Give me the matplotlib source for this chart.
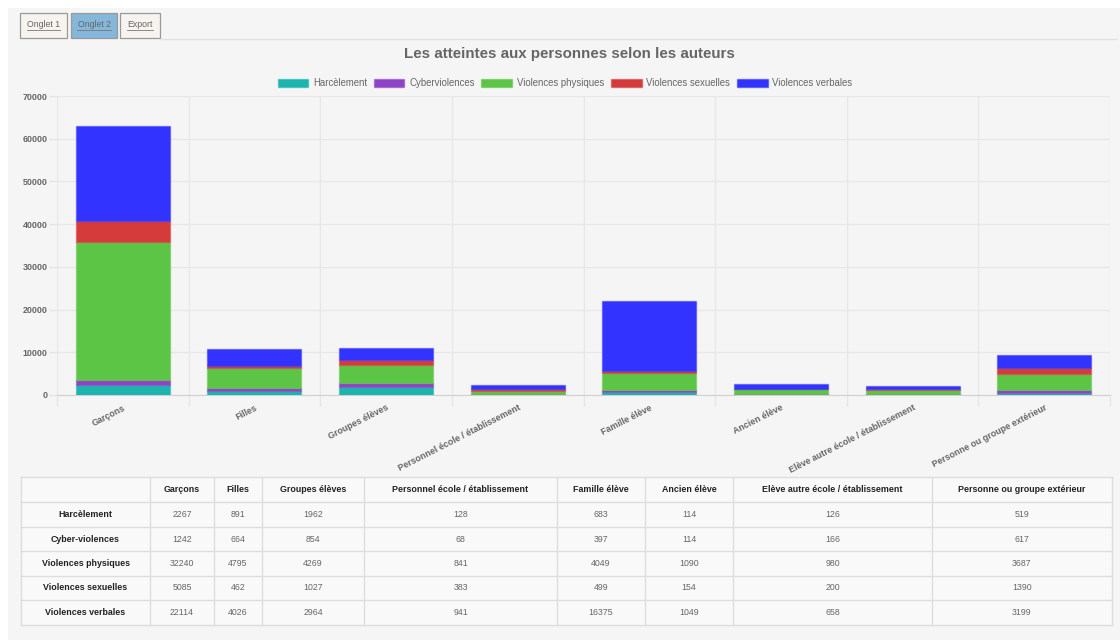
import numpy as np
import matplotlib
matplotlib.use("Agg")
import matplotlib.pyplot as plt
from matplotlib.patches import Rectangle, Patch

plt.rcParams['font.family'] = ['Liberation Sans', 'DejaVu Sans']

# auteurs (colonnes) et types d'atteinte (séries empilées)
auteurs = ["Garçons", "Filles", "Groupes élèves", "Personnel école / établissement",
           "Famille élève", "Ancien élève", "Elève autre école / établissement",
           "Personne ou groupe extérieur"]
series_legende = ["Harcèlement", "Cyberviolences", "Violences physiques",
                  "Violences sexuelles", "Violences verbales"]
series_tableau = ["Harcèlement", "Cyber-violences", "Violences physiques",
                  "Violences sexuelles", "Violences verbales"]

harcelement = [2267, 891, 1962, 128, 683, 114, 126, 519]
cyber = [1242, 664, 854, 68, 397, 114, 166, 617]
physiques = [32240, 4795, 4269, 841, 4049, 1090, 980, 3687]
sexuelles = [5085, 462, 1027, 383, 499, 154, 200, 1390]
verbales = [22114, 4026, 2964, 941, 16375, 1049, 658, 3199]

couleurs = ["#1bb5ae", "#8e44c4", "#5cc545", "#d63b3b", "#3333ff"]
yticks = [0, 10000, 20000, 30000, 40000, 50000, 60000, 70000]

W, H = 1120, 644
fig = plt.figure(figsize=(W / 100, H / 100), dpi=100, facecolor="white")

# calque "page" en coordonnées pixel
page = fig.add_axes([0, 0, 1, 1], zorder=0)
page.set_xlim(0, W)
page.set_ylim(H, 0)
page.axis("off")
page.add_patch(Rectangle((8, 8), W - 8, 632, facecolor="#f5f5f5", edgecolor="none"))

# onglets
onglets = [("Onglet 1", 20, 67, "#f7f4ef"), ("Onglet 2", 71, 117, "#84b7d9"),
           ("Export", 120, 160, "#f7f4ef")]
for nom, x0, x1, fond in onglets:
    page.add_patch(Rectangle((x0, 13), x1 - x0, 25, facecolor=fond,
                             edgecolor="#999999", lw=0.9))
    page.text((x0 + x1) / 2, 24.5, nom, ha="center", va="center", fontsize=6.3,
              color="#666666")
    tw = len(nom) * 4.2
    page.plot([(x0 + x1) / 2 - tw / 2, (x0 + x1) / 2 + tw / 2], [29.5, 29.5],
              color="#777777", lw=0.6)
page.plot([160, 1117], [38.5, 38.5], color="#e2e2e2", lw=1)

# titre + légende
fig.text(569 / W, 1 - 54 / H, "Les atteintes aux personnes selon les auteurs",
         ha="center", va="center", fontsize=10.9, fontweight="bold", color="#666666")
handles = [Patch(facecolor=c, edgecolor=matplotlib.colors.to_rgba(c, 0.5), lw=1)
           for c in couleurs]
fig.legend(handles, series_legende, loc="center", bbox_to_anchor=(565 / W, 1 - 83 / H),
           ncol=5, frameon=False, fontsize=6.9, labelcolor="#666666",
           handlelength=3.2, handleheight=0.95, handletextpad=0.5, columnspacing=0.7)

# histogramme empilé
ax = fig.add_axes([57 / W, 1 - 395 / H, (1110 - 57) / W, (395 - 96) / H], zorder=2)
ax.set_facecolor("none")
x = np.arange(len(auteurs))
bas = np.zeros(len(auteurs))
for vals, c in zip([harcelement, cyber, physiques, sexuelles, verbales], couleurs):
    ax.bar(x, vals, bottom=bas, width=0.715, color=c,
           edgecolor=matplotlib.colors.to_rgba(c, 0.45), linewidth=1, zorder=3)
    bas += np.array(vals)

ax.set_xlim(-0.5, len(auteurs) - 0.5)
ax.set_ylim(0, 70000)
ax.set_yticks(yticks)
ax.set_yticklabels([str(v) for v in yticks])
ax.set_xticks(x)
ax.set_xticklabels(auteurs, rotation=27, ha="right", rotation_mode="anchor")
ax.set_xticks(np.arange(len(auteurs) + 1) - 0.5, minor=True)
ax.tick_params(axis="x", which="major", length=0, pad=6, labelsize=6.4,
               labelcolor="#666666")
ax.tick_params(axis="x", which="minor", length=8, color="#e6e6e6", width=1)
ax.tick_params(axis="y", length=6, color="#e6e6e6", width=1, pad=1, labelsize=6.4,
               labelcolor="#666666")
for lab in ax.get_xticklabels() + ax.get_yticklabels():
    lab.set_fontweight("bold")
ax.grid(True, axis="y", color="#e8e8e8", lw=1, zorder=0)
ax.grid(True, axis="x", which="minor", color="#e8e8e8", lw=1, zorder=0)
for s in ["top", "right", "left"]:
    ax.spines[s].set_visible(False)
ax.spines["bottom"].set_color("#d0d0d0")

# tableau des valeurs
cols = [21, 150, 214, 262, 364, 557, 645, 733, 932, 1112]
rows = [477, 502, 527, 551, 576, 600, 625]
page.add_patch(Rectangle((cols[0], rows[0]), cols[-1] - cols[0], rows[-1] - rows[0],
                         facecolor="#f9f9f9", edgecolor="none"))
for cx in cols:
    page.plot([cx, cx], [rows[0], rows[-1]], color="#dddddd", lw=1)
for ry in rows:
    page.plot([cols[0], cols[-1]], [ry, ry], color="#dddddd", lw=1)

donnees = [harcelement, cyber, physiques, sexuelles, verbales]
for j, nom in enumerate(auteurs):
    page.text((cols[j + 1] + cols[j + 2]) / 2, (rows[0] + rows[1]) / 2, nom,
              ha="center", va="center", fontsize=6.4, fontweight="bold", color="#222222")
for i, nom in enumerate(series_tableau):
    yc = (rows[i + 1] + rows[i + 2]) / 2
    page.text((cols[0] + cols[1]) / 2, yc, nom, ha="center", va="center",
              fontsize=6.4, fontweight="bold", color="#222222")
    for j, v in enumerate(donnees[i]):
        page.text((cols[j + 1] + cols[j + 2]) / 2, yc, str(v), ha="center",
                  va="center", fontsize=6.3, color="#666666")

fig.savefig("out.png", dpi=100, facecolor="white")
